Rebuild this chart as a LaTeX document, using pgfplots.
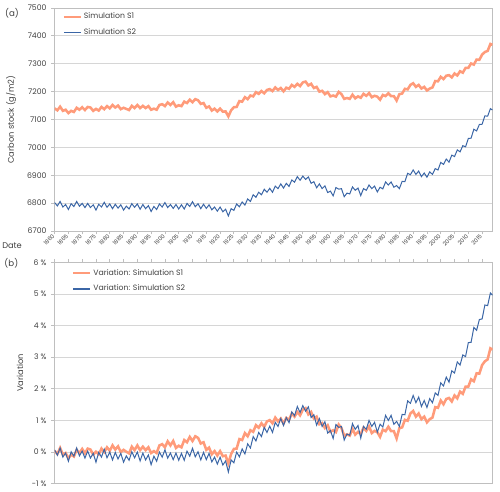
\documentclass[border=0pt]{standalone}
\usepackage{fontspec}
\setmainfont{Poppins}
\usepackage{pgfplots}
\pgfplotsset{compat=1.18}
\usepackage{pgfplotstable}
\definecolor{cS1}{HTML}{FF9B7A}
\definecolor{cS2}{HTML}{3B66A6}
\definecolor{txt}{HTML}{404040}
\definecolor{gridc}{HTML}{D6D6D6}
\definecolor{axc}{HTML}{BFBFBF}

\pgfplotstableread{
year s1 s2
1860 7140 6802
1861 7133 6790
1862 7146 6806
1863 7131 6786
1864 7135 6795
1865 7123 6777
1866 7131 6798
1867 7127 6788
1868 7142 6806
1869 7135 6789
1870 7144 6799
1871 7134 6784
1872 7145 6799
1873 7143 6784
1874 7131 6794
1875 7138 6775
1876 7132 6796
1877 7145 6786
1878 7137 6803
1879 7148 6785
1880 7140 6797
1881 7152 6780
1882 7143 6796
1883 7150 6782
1884 7137 6794
1885 7142 6775
1886 7138 6789
1887 7134 6779
1888 7149 6798
1889 7141 6785
1890 7152 6797
1891 7141 6778
1892 7149 6795
1893 7141 6780
1894 7148 6791
1895 7135 6770
1896 7139 6788
1897 7135 6777
1898 7152 6797
1899 7155 6786
1900 7148 6802
1901 7161 6784
1902 7152 6795
1903 7162 6781
1904 7146 6795
1905 7151 6779
1906 7148 6794
1907 7164 6779
1908 7159 6799
1909 7171 6788
1910 7162 6805
1911 7173 6787
1912 7169 6798
1913 7156 6780
1914 7159 6796
1915 7142 6781
1916 7147 6794
1917 7132 6776
1918 7139 6786
1919 7129 6771
1920 7139 6786
1921 7128 6769
1922 7129 6778
1923 7111 6754
1924 7133 6780
1925 7144 6774
1926 7145 6797
1927 7166 6787
1928 7164 6804
1929 7180 6793
1930 7173 6815
1931 7186 6806
1932 7183 6830
1933 7198 6821
1934 7192 6839
1935 7202 6830
1936 7194 6850
1937 7206 6839
1938 7209 6853
1939 7202 6839
1940 7215 6861
1941 7206 6852
1942 7213 6869
1943 7201 6854
1944 7214 6871
1945 7210 6860
1946 7224 6883
1947 7217 6875
1948 7228 6895
1949 7220 6882
1950 7233 6897
1951 7236 6885
1952 7222 6894
1953 7228 6871
1954 7213 6877
1955 7217 6855
1956 7200 6869
1957 7203 6852
1958 7191 6862
1959 7198 6838
1960 7183 6843
1961 7186 6826
1962 7182 6856
1963 7199 6850
1964 7191 6852
1965 7174 6823
1966 7177 6836
1967 7174 6833
1968 7189 6858
1969 7176 6846
1970 7183 6854
1971 7178 6827
1972 7192 6852
1973 7185 6846
1974 7195 6865
1975 7180 6852
1976 7185 6861
1977 7182 6840
1978 7171 6857
1979 7188 6851
1980 7184 6876
1981 7194 6865
1982 7184 6876
1983 7184 6857
1984 7168 6863
1985 7191 6852
1986 7193 6878
1987 7210 6877
1988 7208 6907
1989 7224 6902
1990 7230 6919
1991 7217 6903
1992 7224 6915
1993 7211 6895
1994 7217 6908
1995 7204 6893
1996 7211 6912
1997 7215 6903
1998 7238 6924
1999 7237 6919
2000 7253 6946
2001 7245 6939
2002 7257 6958
2003 7259 6947
2004 7251 6972
2005 7265 6967
2006 7258 6991
2007 7273 6984
2008 7268 7006
2009 7285 7002
2010 7285 7032
2011 7301 7033
2012 7297 7065
2013 7315 7059
2014 7314 7082
2015 7333 7083
2016 7342 7113
2017 7346 7112
2018 7371 7139
2018.75 7368 7134
}\topdata

\pgfplotstableread{
year v1 v2
1860 0.04 0.07
1861 -0.06 -0.10
1862 0.13 0.13
1863 -0.08 -0.16
1864 -0.03 -0.03
1865 -0.20 -0.29
1866 -0.08 0.01
1867 -0.14 -0.13
1868 0.07 0.13
1869 -0.03 -0.12
1870 0.10 0.03
1871 -0.04 -0.19
1872 0.11 0.03
1873 0.08 -0.19
1874 -0.08 -0.04
1875 0.01 -0.32
1876 -0.07 -0.01
1877 0.11 -0.16
1878 0.00 0.09
1879 0.15 -0.18
1880 0.04 0.00
1881 0.21 -0.25
1882 0.08 -0.01
1883 0.18 -0.22
1884 0.00 -0.04
1885 0.07 -0.32
1886 0.01 -0.12
1887 -0.04 -0.26
1888 0.17 0.01
1889 0.06 -0.18
1890 0.21 0.00
1891 0.06 -0.28
1892 0.17 -0.03
1893 0.06 -0.25
1894 0.15 -0.09
1895 -0.03 -0.40
1896 0.03 -0.13
1897 -0.03 -0.29
1898 0.21 0.00
1899 0.25 -0.16
1900 0.15 0.07
1901 0.34 -0.19
1902 0.21 -0.03
1903 0.35 -0.24
1904 0.13 -0.03
1905 0.20 -0.26
1906 0.15 -0.04
1907 0.38 -0.26
1908 0.31 0.03
1909 0.48 -0.13
1910 0.35 0.12
1911 0.50 -0.15
1912 0.45 0.01
1913 0.27 -0.25
1914 0.31 -0.01
1915 0.07 -0.24
1916 0.14 -0.04
1917 -0.07 -0.31
1918 0.03 -0.16
1919 -0.11 -0.38
1920 0.03 -0.16
1921 -0.13 -0.41
1922 -0.11 -0.28
1923 -0.36 -0.63
1924 -0.06 -0.25
1925 0.10 -0.34
1926 0.11 0.00
1927 0.41 -0.15
1928 0.38 0.10
1929 0.60 -0.06
1930 0.50 0.26
1931 0.69 0.13
1932 0.64 0.49
1933 0.85 0.35
1934 0.77 0.62
1935 0.91 0.49
1936 0.80 0.78
1937 0.97 0.62
1938 1.01 0.82
1939 0.91 0.62
1940 1.09 0.94
1941 0.97 0.81
1942 1.06 1.06
1943 0.90 0.84
1944 1.08 1.09
1945 1.02 0.93
1946 1.22 1.27
1947 1.12 1.15
1948 1.27 1.44
1949 1.16 1.25
1950 1.34 1.47
1951 1.39 1.29
1952 1.19 1.43
1953 1.27 1.09
1954 1.06 1.18
1955 1.12 0.85
1956 0.88 1.06
1957 0.92 0.81
1958 0.76 0.96
1959 0.85 0.60
1960 0.64 0.68
1961 0.69 0.43
1962 0.63 0.87
1963 0.87 0.78
1964 0.76 0.81
1965 0.52 0.38
1966 0.56 0.57
1967 0.52 0.53
1968 0.73 0.90
1969 0.55 0.72
1970 0.64 0.84
1971 0.57 0.44
1972 0.77 0.81
1973 0.67 0.72
1974 0.81 1.00
1975 0.60 0.81
1976 0.67 0.94
1977 0.63 0.63
1978 0.48 0.88
1979 0.71 0.79
1980 0.66 1.16
1981 0.80 1.00
1982 0.66 1.16
1983 0.66 0.88
1984 0.43 0.97
1985 0.76 0.81
1986 0.78 1.19
1987 1.02 1.18
1988 0.99 1.62
1989 1.22 1.54
1990 1.30 1.79
1991 1.12 1.56
1992 1.22 1.74
1993 1.04 1.44
1994 1.12 1.63
1995 0.94 1.41
1996 1.04 1.69
1997 1.09 1.56
1998 1.42 1.87
1999 1.40 1.79
2000 1.63 2.19
2001 1.51 2.09
2002 1.68 2.37
2003 1.71 2.21
2004 1.60 2.57
2005 1.79 2.50
2006 1.70 2.85
2007 1.91 2.75
2008 1.84 3.07
2009 2.07 3.02
2010 2.07 3.46
2011 2.30 3.47
2012 2.24 3.94
2013 2.49 3.85
2014 2.48 4.19
2015 2.75 4.21
2016 2.87 4.65
2017 2.93 4.63
2018 3.28 5.03
2018.75 3.24 4.96
}\botdata

\pgfplotsset{
  panel/.style={
    scale only axis, width=328.5pt,
    xmin=1860, xmax=2018.8,
    xtick={1860,1865,...,2015},
    ymajorgrids,
    major grid style={draw=gridc, line width=0.6pt},
    axis line style={draw=axc, line width=0.6pt},
    tick style={draw=axc, line width=0.6pt},
    tick align=outside,
    major tick length=2.5pt,
    ytick pos=left,
    tick label style={font=\fontsize{5.8}{7}\selectfont, text=txt},
    /pgf/number format/assume math mode=true,
    /pgf/number format/1000 sep={},
    legend cell align=left,
    legend style={draw=none, fill=none, font=\fontsize{5.8}{7}\selectfont, text=txt, inner sep=0pt, row sep=2pt, anchor=north west},
    legend image code/.code={\draw[##1] (0pt,0pt) -- (12.5pt,0pt);},
    every axis y label/.style={rotate=90, anchor=center, font=\fontsize{6.2}{7}\selectfont, text=txt},
  }
}

\begin{document}
\begin{tikzpicture}
\path[use as bounding box] (0pt,0pt) rectangle (375pt,369pt);

\begin{axis}[panel, name=top, at={(40.95pt,195.75pt)}, anchor=south west, height=167.25pt,
  ymin=6700, ymax=7500, ytick={6700,6800,...,7500},
  xtick pos=left,
  xticklabel style={rotate=45, anchor=east, font=\fontsize{4.2}{5}\selectfont, inner sep=1pt},
  ylabel={Carbon stock (g/m2)},
  ylabel style={at={(axis description cs:-0.0995,0.5)}},
  legend style={at={(axis description cs:0.019,0.991)}},
]
\addlegendimage{cS1, line width=1pt}
\addlegendentry{Simulation S1}
\addlegendimage{cS2, line width=1pt}
\addlegendentry{Simulation S2}
\addplot[cS1, line width=1.9pt, forget plot] table[x=year,y=s1]{\topdata};
\addplot[cS2, line width=0.75pt, forget plot] table[x=year,y=s2]{\topdata};
\end{axis}

\begin{axis}[panel, name=bot, at={(40.95pt,6.225pt)}, anchor=south west, height=166.05pt,
  ymin=-1, ymax=6, ytick={-1,0,...,6},
  yticklabels={-1 \%,0 \%,1 \%,2 \%,3 \%,4 \%,5 \%,6 \%},
  xtick pos=right, xticklabels={},
  ylabel={Variation},
  ylabel style={at={(axis description cs:-0.079,0.5)}},
  legend style={at={(axis description cs:0.041,0.982)}},
]
\addlegendimage{cS1, line width=1pt}
\addlegendentry{Variation: Simulation S1}
\addlegendimage{cS2, line width=1pt}
\addlegendentry{Variation: Simulation S2}
\addplot[cS1, line width=1.9pt, forget plot] table[x=year,y=v1]{\botdata};
\addplot[cS2, line width=0.75pt, forget plot] table[x=year,y=v2]{\botdata};
\end{axis}

\node[font=\fontsize{6.5}{7}\selectfont, text=txt] at (9pt,359.25pt) {(a)};
\node[font=\fontsize{6.2}{7}\selectfont, text=txt, anchor=west, inner sep=0pt] at (1.5pt,184.5pt) {Date};
\node[font=\fontsize{6.5}{7}\selectfont, text=txt] at (8.5pt,171.4pt) {(b)};
\end{tikzpicture}
\end{document}
